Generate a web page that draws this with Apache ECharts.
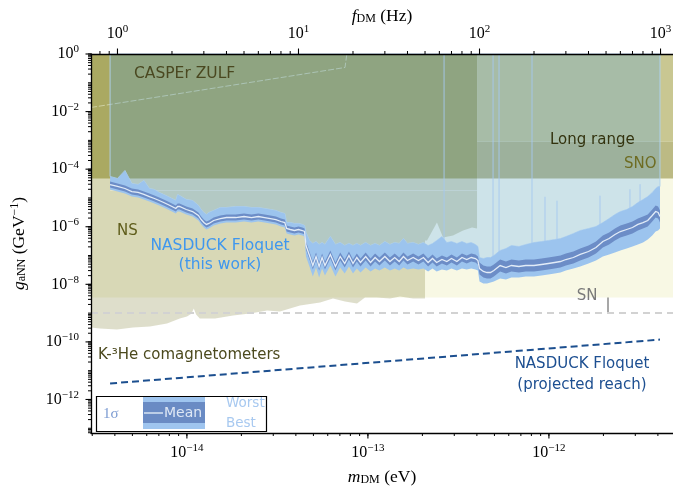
<!DOCTYPE html>
<html>
<head>
<meta charset="utf-8">
<script src="https://cdn.jsdelivr.net/npm/echarts/dist/echarts.min.js"></script>
<style>
html,body{margin:0;padding:0;background:#ffffff;}
#chart{width:673px;height:488px;}
</style>
</head>
<body>
<div id="chart"></div>
<script>
// ===== Data =====
// NASDUCK Floquet scan: frequency (Hz) and coupling bounds g_aNN (GeV^-1)
const freqHz = [0.91,1.0,1.1,1.2,1.3,1.4,1.5,1.6,1.7,1.8,1.9,2.0,2.1,2.15,2.2,2.4,2.6,2.8,2.9,3.0,3.1,3.2,3.4,3.7,4.0,4.5,5.0,5.5,6.0,6.5,7.0,7.5,8.0,8.4,8.6,9.0,9.5,10,10.5,10.8,
 11,11.5,12,12.5,13,13.5,14,15,16,17,18,19,20,21,22,23.5,25,26.5,28,30,32,34,36,38,40,43,46,49,52,55,58,62,66,70,75,80,85,90,95,98,
 100,105,110,115,120,130,140,150,165,180,200,220,240,260,280,300,330,360,400,440,480,520,560,600,650,700,750,800,850,900,940,970,993];
const worst = [5.56e-5,4.74e-5,8.98e-5,3.18e-5,2.93e-5,4.04e-5,2.13e-5,1.97e-5,1.55e-5,1.32e-5,1.12e-5,9.57e-6,8.15e-6,1.32e-5,1.22e-5,8.83e-6,8.15e-6,5.47e-6,3.97e-6,3.12e-6,2.66e-6,3.12e-6,3.66e-6,4.66e-6,4.66e-6,5.05e-6,5.05e-6,4.66e-6,4.66e-6,4.30e-6,3.97e-6,3.66e-6,3.12e-6,2.88e-6,1.40e-6,1.40e-6,1.30e-6,1.30e-6,1.20e-6,1.10e-6,
 6.31e-7,3.33e-7,2.62e-7,3.07e-7,2.42e-7,2.83e-7,2.42e-7,4.58e-7,2.42e-7,2.83e-7,2.23e-7,2.62e-7,2.23e-7,2.62e-7,2.23e-7,2.83e-7,2.23e-7,2.62e-7,2.23e-7,3.07e-7,2.42e-7,2.83e-7,2.62e-7,3.90e-7,2.62e-7,2.83e-7,2.42e-7,2.83e-7,2.23e-7,2.62e-7,3.33e-7,4.58e-7,2.83e-7,3.07e-7,2.62e-7,3.07e-7,2.62e-7,2.83e-7,2.42e-7,2.06e-7,
 8.54e-8,7.88e-8,8.54e-8,8.54e-8,1.00e-7,1.50e-7,1.75e-7,2.23e-7,2.06e-7,2.42e-7,2.83e-7,3.07e-7,3.33e-7,3.60e-7,3.90e-7,4.58e-7,5.82e-7,7.40e-7,8.69e-7,1.02e-6,1.40e-6,1.93e-6,2.66e-6,3.38e-6,3.97e-6,5.05e-6,6.95e-6,8.83e-6,1.12e-5,1.55e-5,2.13e-5,2.50e-5,2.50e-5];
const sigmaHi = [3.73e-5,3.18e-5,2.71e-5,2.13e-5,1.97e-5,1.67e-5,1.43e-5,1.22e-5,1.04e-5,8.83e-6,7.53e-6,6.42e-6,5.47e-6,6.42e-6,6.42e-6,5.05e-6,4.30e-6,3.12e-6,2.27e-6,1.78e-6,1.52e-6,1.65e-6,2.09e-6,2.46e-6,2.66e-6,2.66e-6,2.88e-6,2.66e-6,2.88e-6,2.66e-6,2.46e-6,2.27e-6,1.93e-6,1.78e-6,1.10e-6,1.02e-6,9.41e-7,1.02e-6,9.41e-7,8.69e-7,
 3.07e-7,1.38e-7,6.20e-8,1.27e-7,5.73e-8,1.18e-7,6.20e-8,1.50e-7,5.73e-8,1.27e-7,7.28e-8,1.38e-7,7.28e-8,1.18e-7,7.88e-8,1.27e-7,7.88e-8,1.18e-7,8.54e-8,1.27e-7,8.54e-8,1.18e-7,8.54e-8,1.27e-7,9.25e-8,1.18e-7,9.25e-8,1.18e-7,7.88e-8,1.09e-7,7.88e-8,1.00e-7,8.54e-8,1.09e-7,8.54e-8,1.18e-7,1.00e-7,1.18e-7,1.09e-7,9.25e-8,
 5.73e-8,4.50e-8,4.16e-8,4.16e-8,4.88e-8,7.28e-8,6.20e-8,7.28e-8,6.72e-8,7.28e-8,7.28e-8,7.88e-8,8.54e-8,9.25e-8,1.00e-7,1.18e-7,1.38e-7,1.75e-7,2.23e-7,3.07e-7,4.96e-7,6.31e-7,8.69e-7,1.10e-6,1.30e-6,1.52e-6,1.93e-6,2.27e-6,2.66e-6,3.97e-6,5.47e-6,5.05e-6,3.66e-6];
const mean = [2.93e-5,2.50e-5,2.13e-5,1.67e-5,1.55e-5,1.32e-5,1.12e-5,9.57e-6,8.15e-6,6.95e-6,5.92e-6,5.05e-6,4.30e-6,5.05e-6,5.05e-6,3.97e-6,3.38e-6,2.46e-6,1.78e-6,1.40e-6,1.20e-6,1.30e-6,1.65e-6,1.93e-6,2.09e-6,2.09e-6,2.27e-6,2.09e-6,2.27e-6,2.09e-6,1.93e-6,1.78e-6,1.52e-6,1.40e-6,8.69e-7,8.02e-7,7.40e-7,8.02e-7,7.40e-7,6.83e-7,
 2.23e-7,1.00e-7,4.50e-8,9.25e-8,4.16e-8,8.54e-8,4.50e-8,1.09e-7,4.16e-8,9.25e-8,5.29e-8,1.00e-7,5.29e-8,8.54e-8,5.73e-8,9.25e-8,5.73e-8,8.54e-8,6.20e-8,9.25e-8,6.20e-8,8.54e-8,6.20e-8,9.25e-8,6.72e-8,8.54e-8,6.72e-8,8.54e-8,5.73e-8,7.88e-8,5.73e-8,7.28e-8,6.20e-8,7.88e-8,6.20e-8,8.54e-8,7.28e-8,8.54e-8,7.88e-8,6.72e-8,
 3.54e-8,2.79e-8,2.57e-8,2.57e-8,3.02e-8,4.50e-8,3.84e-8,4.50e-8,4.16e-8,4.50e-8,4.50e-8,4.88e-8,5.29e-8,5.73e-8,6.20e-8,7.28e-8,8.54e-8,1.09e-7,1.38e-7,1.90e-7,3.07e-7,3.90e-7,5.37e-7,6.83e-7,8.02e-7,9.41e-7,1.20e-6,1.40e-6,1.65e-6,2.46e-6,3.38e-6,3.12e-6,2.27e-6];
const sigmaLo = [2.31e-5,1.97e-5,1.67e-5,1.32e-5,1.22e-5,1.04e-5,8.83e-6,7.53e-6,6.42e-6,5.47e-6,4.66e-6,3.97e-6,3.38e-6,3.97e-6,3.97e-6,3.12e-6,2.66e-6,1.93e-6,1.40e-6,1.10e-6,9.41e-7,1.02e-6,1.30e-6,1.52e-6,1.65e-6,1.65e-6,1.78e-6,1.65e-6,1.78e-6,1.65e-6,1.52e-6,1.40e-6,1.20e-6,1.10e-6,6.83e-7,6.31e-7,5.82e-7,6.31e-7,5.82e-7,5.37e-7,
 1.62e-7,7.28e-8,3.27e-8,6.72e-8,3.02e-8,6.20e-8,3.27e-8,7.88e-8,3.02e-8,6.72e-8,3.84e-8,7.28e-8,3.84e-8,6.20e-8,4.16e-8,6.72e-8,4.16e-8,6.20e-8,4.50e-8,6.72e-8,4.50e-8,6.20e-8,4.50e-8,6.72e-8,4.88e-8,6.20e-8,4.88e-8,6.20e-8,4.16e-8,5.73e-8,4.16e-8,5.29e-8,4.50e-8,5.73e-8,4.50e-8,6.20e-8,5.29e-8,6.20e-8,5.73e-8,4.88e-8,
 2.19e-8,1.72e-8,1.59e-8,1.59e-8,1.87e-8,2.79e-8,2.38e-8,2.79e-8,2.57e-8,2.79e-8,2.79e-8,3.02e-8,3.27e-8,3.54e-8,3.84e-8,4.50e-8,5.29e-8,6.72e-8,8.54e-8,1.18e-7,1.90e-7,2.42e-7,3.33e-7,4.23e-7,4.96e-7,5.82e-7,7.40e-7,8.69e-7,1.02e-6,1.52e-6,2.09e-6,1.93e-6,1.40e-6];
const best = [1.97e-5,1.67e-5,1.43e-5,1.12e-5,1.04e-5,8.83e-6,7.53e-6,6.42e-6,5.47e-6,4.66e-6,3.97e-6,3.38e-6,2.88e-6,3.38e-6,3.38e-6,2.66e-6,2.27e-6,1.65e-6,1.20e-6,9.41e-7,8.02e-7,8.69e-7,1.10e-6,1.30e-6,1.40e-6,1.40e-6,1.52e-6,1.40e-6,1.52e-6,1.40e-6,1.30e-6,1.20e-6,1.02e-6,9.41e-7,5.82e-7,5.37e-7,4.96e-7,5.37e-7,4.96e-7,4.58e-7,
 9.25e-8,4.16e-8,1.87e-8,3.84e-8,1.72e-8,3.54e-8,2.02e-8,4.50e-8,1.87e-8,3.84e-8,2.38e-8,4.16e-8,2.38e-8,3.54e-8,2.57e-8,3.84e-8,2.79e-8,3.54e-8,3.02e-8,3.84e-8,3.02e-8,3.54e-8,3.02e-8,3.84e-8,3.27e-8,3.54e-8,3.27e-8,3.54e-8,2.79e-8,3.54e-8,2.79e-8,3.27e-8,3.02e-8,3.54e-8,3.02e-8,3.54e-8,3.27e-8,3.54e-8,3.27e-8,3.02e-8,
 1.25e-8,1.07e-8,1.07e-8,1.16e-8,1.25e-8,1.59e-8,1.47e-8,1.72e-8,1.72e-8,1.87e-8,1.87e-8,2.02e-8,2.19e-8,2.38e-8,2.57e-8,3.02e-8,3.54e-8,4.16e-8,5.29e-8,6.72e-8,9.25e-8,1.09e-7,1.27e-7,1.50e-7,1.75e-7,2.06e-7,2.42e-7,2.83e-7,3.60e-7,4.96e-7,6.83e-7,7.40e-7,8.69e-7];
// narrow excursions of the worst-case bound
const spikeFreqHz = [63.7,118.8,128.2,195,230,268,463,678,771];
const spikeTop    = [1,1,1,1,1.1e-5,8.0e-6,1.2e-5,2.0e-5,3.0e-5];
const spikeBase   = [2.6e-7,8.5e-8,1.2e-7,2.4e-7,2.8e-7,3.6e-7,1.1e-6,4.5e-6,6.0e-6];
// NASDUCK Floquet projected reach
const projFreqHz = [0.91, 993];
const projReach  = [3.6e-12, 1.2e-10];
// K-3He comagnetometer exclusion outline
const comagFreqHz = [0.714,0.80,0.994,1.218,1.51,1.877,2.21,2.42,2.56,2.64,2.72,2.85,3.46,4.35,5.40,6.70,7.90,10.19,13.15,15.51,18.07,21.05,23.3,27.1,32.0,36.4,42.9,50.0,50.0,51.3,58.2,62.9,71.4,81.1,90.9,96.9,96.9,0.714];
const comagBound  = [3.16e-10,2.92e-10,2.70e-10,3.16e-10,3.43e-10,4.36e-10,6.50e-10,7.62e-10,9.5e-10,1.45e-9,9.0e-10,6.50e-10,6.50e-10,8.26e-10,9.69e-10,1.23e-9,1.14e-9,1.84e-9,2.34e-9,3.22e-9,2.53e-9,2.16e-9,3.48e-9,3.48e-9,3.22e-9,3.77e-9,3.22e-9,3.22e-9,3.33e-7,3.33e-7,1.4e-6,4.23e-7,4.96e-7,7.40e-7,9.41e-7,8.69e-7,1,1];
// CASPEr ZULF faint outline
const caspFreqHz = [0.714, 18.07, 18.5];
const caspBound  = [1.39e-2, 0.34, 1];
// horizontal bounds (g_aNN)
const snBand        = [3.48e-9, 1];
const longRangeBand = [4.74e-5, 1];
const snoBand       = [4.74e-5, 9.1e-4];
const faintLineG    = [1.81e-5];
const refLineG      = [1e-9];
const comagEdgeHz   = 96.9;
// tick labels
const massTicks = [1e-14, 1e-13, 1e-12];
const freqTicks = [1, 10, 100, 1000];
const gTicks = [1, 1e-2, 1e-4, 1e-6, 1e-8, 1e-10, 1e-12];

// ===== Axis ranges =====
const F_MIN = 0.714, F_MAX = 1172;
const EV_PER_HZ = 4.135667e-15;
const M_MIN = F_MIN * EV_PER_HZ, M_MAX = F_MAX * EV_PER_HZ;
const G_MIN = 6.85e-14, G_MAX = 1;

const SERIF = "'Liberation Serif', 'DejaVu Serif', serif";
const SANS = "'DejaVu Sans', sans-serif";

function minorList(lo, hi) {
  const out = [];
  for (let e = Math.floor(Math.log10(lo)) - 1; e <= Math.ceil(Math.log10(hi)); e++) {
    for (let k = 1; k <= 9; k++) {
      const v = k * Math.pow(10, e);
      if (v >= lo * 0.9999 && v <= hi * 1.0001) out.push(v);
    }
  }
  return out;
}
function powLabel(v) {
  const e = Math.round(Math.log10(v));
  return '{b|10}{s|' + (e < 0 ? '\u2212' + (-e) : String(e)) + '}';
}
const richLabel = {
  b: {fontFamily: SERIF, fontSize: 16, color: '#000'},
  s: {fontFamily: SERIF, fontSize: 11, color: '#000', padding: [0, 0, 9, 0]}
};
const nameRich = {
  i: {fontFamily: SERIF, fontSize: 17.5, fontStyle: 'italic', color: '#000'},
  d: {fontFamily: SERIF, fontSize: 12, color: '#000', padding: [6, 0, 0, 0]},
  n: {fontFamily: SERIF, fontSize: 17.5, color: '#000'},
  u: {fontFamily: SERIF, fontSize: 12, color: '#000', padding: [0, 0, 8, 0]}
};

function mainAxis(pos, min, max, ticks, name, gap) {
  return {
    type: 'log', position: pos, min: min, max: max, z: 10,
    axisLine: {show: true, onZero: false, lineStyle: {color: '#000', width: 1.3}},
    axisTick: {show: false},
    axisLabel: {show: true, customValues: ticks, formatter: powLabel, rich: richLabel, margin: pos === 'left' ? 12 : 10, color: '#000'},
    splitLine: {show: false},
    name: name, nameLocation: 'middle', nameGap: gap, nameMoveOverlap: false,
    nameTextStyle: {rich: nameRich, color: '#000'}
  };
}

// ===== shape helpers (custom series on Hz / g axes) =====
function shapeSeries(name, pts, kind, style) {
  return {
    type: 'custom', name: name, xAxisIndex: 1, yAxisIndex: 0, silent: true,
    data: pts,
    renderItem: function (params, api) {
      if (params.dataIndex !== 0) return null;
      const p = pts.map(function (d) { return api.coord(d); });
      return {type: kind, shape: {points: p}, style: style};
    }
  };
}
// tick marks placed through the axes' own scales
function tickSeries(side, values, len, width) {
  const onMass = side === 'bottom';
  return {
    type: 'custom', name: 'ticks-' + side, xAxisIndex: onMass ? 0 : 1, yAxisIndex: 0, silent: true, z: 20, clip: false,
    data: values.map(function (v) {
      if (side === 'left') return [F_MIN, v];
      return [v, side === 'bottom' ? G_MIN : G_MAX];
    }),
    renderItem: function (params, api) {
      const p = api.coord([api.value(0), api.value(1)]);
      let x2 = p[0], y2 = p[1];
      if (side === 'left') x2 -= len; else if (side === 'bottom') y2 += len; else y2 -= len;
      return {type: 'line', shape: {x1: p[0], y1: p[1], x2: x2, y2: y2}, style: {stroke: '#000', lineWidth: width}};
    }
  };
}
function rectPts(x0, x1, y0, y1) { return [[x0, y0], [x1, y0], [x1, y1], [x0, y1]]; }
function bandPts(xs, up, lo) {
  const a = xs.map(function (x, i) { return [x, up[i]]; });
  const b = xs.map(function (x, i) { return [x, lo[i]]; }).reverse();
  return a.concat(b);
}
function linePts(xs, ys) { return xs.map(function (x, i) { return [x, ys[i]]; }); }

const nLast = freqHz.length - 1;
const exclusionPts = linePts(freqHz, worst).concat([[freqHz[nLast], G_MAX], [freqHz[0], G_MAX]]);

const series = [
  shapeSeries('SN', rectPts(F_MIN, F_MAX, snBand[0], snBand[1]), 'polygon', {fill: '#f8f8e4'}),
  shapeSeries('K-3He comagnetometers', linePts(comagFreqHz, comagBound), 'polygon', {fill: 'rgba(105,105,18,0.22)'}),
  shapeSeries('Long range (low f)', rectPts(F_MIN, comagEdgeHz, longRangeBand[0], longRangeBand[1]), 'polygon', {fill: '#aaa962'}),
  shapeSeries('Long range (high f)', rectPts(comagEdgeHz, F_MAX, snoBand[1], longRangeBand[1]), 'polygon', {fill: '#c9c792'}),
  shapeSeries('SNO', rectPts(comagEdgeHz, F_MAX, snoBand[0], snoBand[1]), 'polygon', {fill: '#bcba84'}),
  shapeSeries('CASPEr ZULF outline', linePts(caspFreqHz, caspBound), 'polyline', {fill: 'none', stroke: 'rgba(235,240,215,0.55)', lineWidth: 1, lineDash: [6, 2]}),
  shapeSeries('faint', [[freqHz[0], faintLineG[0]], [comagEdgeHz, faintLineG[0]]], 'polyline', {fill: 'none', stroke: 'rgba(255,255,255,0.3)', lineWidth: 1}),
  shapeSeries('NASDUCK exclusion', exclusionPts, 'polygon', {fill: 'rgba(33,143,255,0.2)', stroke: 'rgba(175,210,240,0.9)', lineWidth: 1}),
  {
    type: 'custom', name: 'spikes', xAxisIndex: 1, yAxisIndex: 0, silent: true,
    data: spikeFreqHz.map(function (f, i) { return [f, spikeTop[i], spikeBase[i]]; }),
    renderItem: function (params, api) {
      const a = api.coord([api.value(0), api.value(1)]);
      const b = api.coord([api.value(0), api.value(2)]);
      return {type: 'line', shape: {x1: a[0], y1: a[1], x2: b[0], y2: b[1]}, style: {stroke: 'rgba(165,200,240,0.9)', lineWidth: 1}};
    }
  },
  shapeSeries('Worst/Best', bandPts(freqHz, worst, best), 'polygon', {fill: '#9cc4ee'}),
  shapeSeries('1 sigma', bandPts(freqHz, sigmaHi, sigmaLo), 'polygon', {fill: '#6c8dc7'}),
  shapeSeries('Mean', linePts(freqHz, mean), 'polyline', {fill: 'none', stroke: '#e2ecf8', lineWidth: 1.3}),
  shapeSeries('1e-9 reference', [[F_MIN, refLineG[0]], [F_MAX, refLineG[0]]], 'polyline', {fill: 'none', stroke: '#d2d2d2', lineWidth: 2, lineDash: [7, 5]}),
  shapeSeries('Projected reach', linePts(projFreqHz, projReach), 'polyline', {fill: 'none', stroke: '#1c4f8f', lineWidth: 2, lineDash: [7, 4]}),
  tickSeries('left', minorList(G_MIN, G_MAX), 3, 1),
  tickSeries('left', gTicks, 5.5, 1.1),
  tickSeries('bottom', minorList(M_MIN, M_MAX), 3, 1),
  tickSeries('bottom', massTicks, 5.5, 1.1),
  tickSeries('top', minorList(F_MIN, F_MAX), 3, 1),
  tickSeries('top', freqTicks, 5.5, 1.1)
];

// ===== annotations =====
function txt(x, y, s, color, size, family, align) {
  return {type: 'text', x: x, y: y, z: 50, silent: true,
    style: {text: s, fill: color, fontSize: size || 15, fontFamily: family || SANS,
      align: align || 'left', verticalAlign: 'middle', textAlign: align || 'left', textVerticalAlign: 'middle'}};
}
function arrow(x, yTail, yTip, color, lw, both, filled) {
  const hw = 4, hl = 8;
  const kids = [{type: 'line', shape: {x1: x, y1: yTail, x2: x, y2: yTip}, style: {stroke: color, lineWidth: lw}}];
  function head(yt, dir) {
    const pts = [[x - hw, yt + dir * hl], [x, yt], [x + hw, yt + dir * hl]];
    if (filled) return {type: 'polygon', shape: {points: pts}, style: {fill: color, stroke: color, lineWidth: 1}};
    return {type: 'polyline', shape: {points: pts}, style: {stroke: color, lineWidth: lw, fill: 'none'}};
  }
  const d = yTip < yTail ? 1 : -1;
  kids.push(head(yTip, d));
  if (both) kids.push(head(yTail, -d));
  return {type: 'group', z: 50, silent: true, children: kids};
}

const graphics = [
  txt(134, 74, 'CASPEr ZULF', '#4a4820', 15.5),
  txt(550, 140, 'Long range', '#33330f', 15),
  arrow(540, 178, 107, '#2e2e0c', 1.5, false),
  txt(624, 164, 'SNO', '#6e6c22', 15),
  arrow(666, 185, 146, '#8a8a2c', 1.5, true),
  txt(117, 231, 'NS', '#5f5d1b', 15),
  arrow(106, 291, 182, '#7b7b25', 1.5, true),
  txt(220, 246, 'NASDUCK Floquet', '#3f97ee', 15.5, SANS, 'center'),
  txt(220, 265, '(this work)', '#3f97ee', 15.5, SANS, 'center'),
  txt(98, 355, 'K-\u00b3He comagnetometers', '#4c4a1e', 15),
  txt(587, 296, 'SN', '#7a7a7a', 15, SANS, 'center'),
  arrow(608, 312, 283, '#8a8a8a', 1.5, false),
  txt(582, 364, 'NASDUCK Floquet', '#1d4f91', 15, SANS, 'center'),
  txt(582, 385, '(projected reach)', '#1d4f91', 15, SANS, 'center'),
  // legend box
  {type: 'rect', z: 40, silent: true, shape: {x: 96.5, y: 396.5, width: 170, height: 35}, style: {fill: '#fff', stroke: '#000', lineWidth: 1.2}},
  txt(103, 414, '1\u03c3', '#7c9bd2', 15, SERIF),
  arrow(131, 423, 404, '#5a7dbd', 2.4, true, true),
  {type: 'rect', z: 45, silent: true, shape: {x: 143, y: 397, width: 62, height: 32}, style: {fill: '#9fc5ef'}},
  {type: 'rect', z: 46, silent: true, shape: {x: 143, y: 402, width: 62, height: 21}, style: {fill: '#6a8bc4'}},
  {type: 'line', z: 47, silent: true, shape: {x1: 144, y1: 413, x2: 163, y2: 413}, style: {stroke: '#d9e4f3', lineWidth: 1.5}},
  txt(164, 413, 'Mean', '#dfe8f5', 14),
  arrow(215, 428, 401, '#a9ccf2', 1.5, true),
  txt(226, 403, 'Worst', '#a8c9f0', 13.5),
  txt(226, 423, 'Best', '#a8c9f0', 13.5)
];

const option = {
  animation: false,
  backgroundColor: '#ffffff',
  grid: {left: 91, right: 0, top: 54, bottom: 55, containLabel: false, outerBoundsMode: 'none'},
  xAxis: [
    mainAxis('bottom', M_MIN, M_MAX, massTicks, '{i|m}{d|DM}{n| (eV)}', 35),
    mainAxis('top', F_MIN, F_MAX, freqTicks, '{i|f}{d|DM}{n| (Hz)}', 29)
  ],
  yAxis: [
    Object.assign(mainAxis('left', G_MIN, G_MAX, gTicks, '{i|g}{d|aNN}{n| (GeV}{u|\u22121}{n|)}', 62), {nameRotate: 90})
  ],
  series: series,
  graphic: {elements: graphics}
};

const chart = echarts.init(document.getElementById('chart'), null, {renderer: 'canvas'});
chart.setOption(option);
</script>
</body>
</html>
